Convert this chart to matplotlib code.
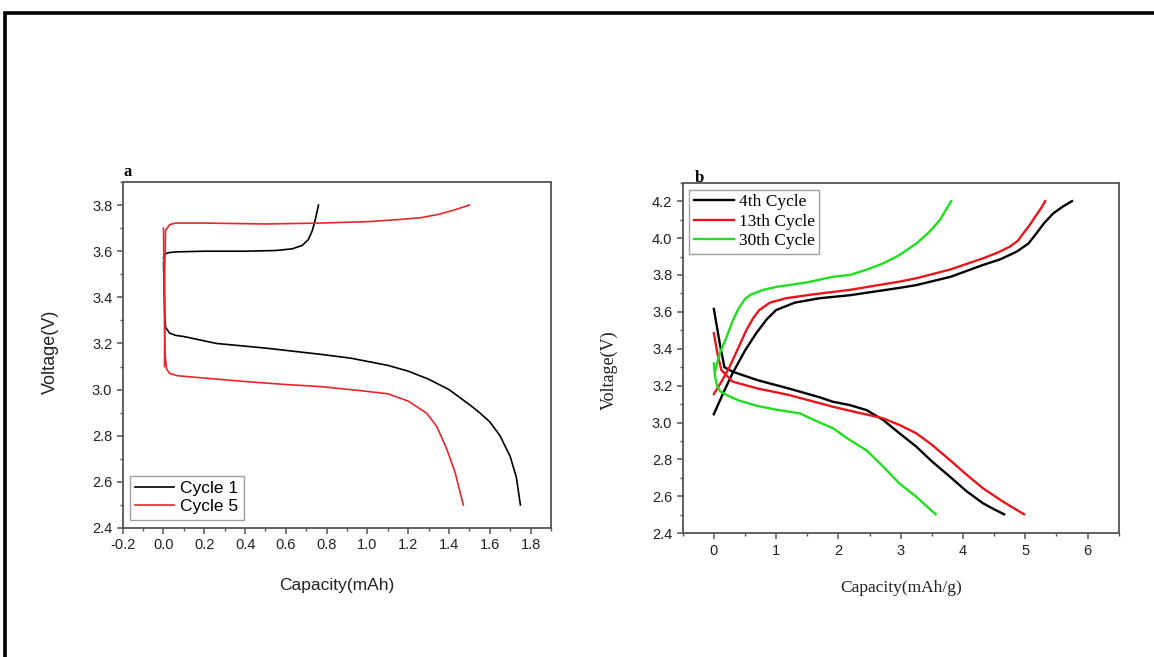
import matplotlib.pyplot as plt
from matplotlib.patches import Rectangle
from matplotlib.ticker import MultipleLocator

# ---- panel a data (capacity mAh, voltage V) ----
c1_chg_x = [0.0, 0.005, 0.02, 0.06, 0.2, 0.4, 0.55, 0.63, 0.68, 0.71, 0.73, 0.745, 0.76]
c1_chg_v = [3.57, 3.585, 3.593, 3.597, 3.6, 3.6, 3.603, 3.61, 3.625, 3.65, 3.69, 3.74, 3.8]
c1_dis_x = [0.0, 0.003, 0.006, 0.01, 0.03, 0.06, 0.1, 0.26, 0.5, 0.77, 0.92, 1.1, 1.2, 1.3,
            1.4, 1.5, 1.55, 1.6, 1.65, 1.7, 1.73, 1.75]
c1_dis_v = [3.55, 3.45, 3.33, 3.27, 3.245, 3.235, 3.23, 3.2, 3.18, 3.153, 3.136, 3.105, 3.08, 3.045,
            3.0, 2.935, 2.9, 2.86, 2.8, 2.71, 2.62, 2.5]
c5_chg_x = [0.005, 0.006, 0.01, 0.03, 0.06, 0.2, 0.5, 0.77, 1.0, 1.15, 1.26, 1.35, 1.43, 1.5]
c5_chg_v = [3.1, 3.5, 3.69, 3.715, 3.722, 3.722, 3.718, 3.722, 3.728, 3.737, 3.745, 3.76, 3.78, 3.8]
c5_dis_x = [0.0, 0.004, 0.008, 0.015, 0.03, 0.07, 0.2, 0.4, 0.6, 0.77, 0.96, 1.1, 1.2, 1.29,
            1.34, 1.39, 1.43, 1.47]
c5_dis_v = [3.7, 3.4, 3.15, 3.09, 3.07, 3.06, 3.05, 3.035, 3.022, 3.013, 2.996, 2.982, 2.95, 2.898,
            2.84, 2.74, 2.64, 2.5]

# ---- panel b data (capacity mAh/g, voltage V) ----
b4_chg_x = [0.0, 0.15, 0.3, 0.5, 0.68, 0.85, 1.0, 1.3, 1.7, 2.18, 2.98, 3.25, 3.8, 4.32, 4.6, 4.86,
            5.05, 5.18, 5.3, 5.45, 5.6, 5.75]
b4_chg_v = [3.045, 3.16, 3.267, 3.39, 3.484, 3.56, 3.61, 3.65, 3.674, 3.69, 3.73, 3.745, 3.79, 3.854,
            3.885, 3.926, 3.97, 4.026, 4.08, 4.134, 4.17, 4.2]
b4_dis_x = [0.0, 0.1, 0.17, 0.3, 0.7, 1.2, 1.7, 1.91, 2.18, 2.45, 2.72, 2.98, 3.25, 3.5, 3.79, 4.05,
            4.32, 4.5, 4.66]
b4_dis_v = [3.616, 3.42, 3.3, 3.276, 3.23, 3.185, 3.137, 3.113, 3.095, 3.068, 3.014, 2.942, 2.87,
            2.79, 2.707, 2.63, 2.563, 2.53, 2.503]
b13_chg_x = [0.0, 0.12, 0.25, 0.4, 0.52, 0.63, 0.73, 0.9, 1.16, 1.6, 2.18, 2.98, 3.25, 3.8, 4.32,
             4.55, 4.75, 4.88, 4.97, 5.07, 5.16, 5.25, 5.32]
b13_chg_v = [3.155, 3.22, 3.3, 3.41, 3.5, 3.565, 3.61, 3.65, 3.674, 3.695, 3.719, 3.764, 3.782,
             3.83, 3.89, 3.92, 3.953, 3.985, 4.026, 4.07, 4.116, 4.16, 4.2]
b13_dis_x = [0.0, 0.06, 0.12, 0.3, 0.7, 1.2, 1.7, 1.91, 2.3, 2.61, 2.72, 2.98, 3.25, 3.5, 3.79,
             4.05, 4.32, 4.65, 4.98]
b13_dis_v = [3.484, 3.37, 3.285, 3.222, 3.185, 3.15, 3.105, 3.086, 3.055, 3.032, 3.023, 2.987, 2.942,
             2.88, 2.797, 2.72, 2.644, 2.57, 2.503]
b30_chg_x = [0.02, 0.1, 0.2, 0.3, 0.4, 0.5, 0.6, 0.8, 1.0, 1.5, 1.91, 2.18, 2.45, 2.72, 2.98, 3.25,
             3.45, 3.63, 3.72, 3.81]
b30_chg_v = [3.28, 3.38, 3.46, 3.55, 3.62, 3.67, 3.695, 3.72, 3.735, 3.76, 3.79, 3.80, 3.828, 3.863,
             3.908, 3.97, 4.03, 4.098, 4.15, 4.2]
b30_dis_x = [0.0, 0.02, 0.05, 0.1, 0.2, 0.4, 0.7, 1.0, 1.38, 1.7, 1.91, 2.18, 2.45, 2.72, 2.98,
             3.25, 3.56]
b30_dis_v = [3.32, 3.25, 3.2, 3.17, 3.15, 3.12, 3.09, 3.07, 3.05, 3.0, 2.97, 2.906, 2.85, 2.761,
             2.67, 2.598, 2.503]

W, H = 1154, 657
fig = plt.figure(figsize=(W / 100, H / 100), dpi=100)
fig.patches.append(Rectangle((5 / W, -0.2), 1.2, 1.2 - 12.5 / H,
                             transform=fig.transFigure, fill=False, ec='black', lw=2.6))

spine_col = '#555555'
sans = 'Liberation Sans'
serif = 'Liberation Serif'


def style(ax, fam):
    for s in ax.spines.values():
        s.set_color(spine_col)
        s.set_linewidth(1.3)
    ax.tick_params(which='both', direction='out', colors=spine_col, top=False, right=False)
    ax.tick_params(which='major', length=4, width=1.1, labelcolor='#222222', labelsize=10.5)
    ax.tick_params(which='minor', length=2.5, width=1.0)
    for lab in ax.get_xticklabels() + ax.get_yticklabels():
        lab.set_family(fam)


# panel a
ax1 = fig.add_axes([122.7 / W, 1 - 528 / H, 428.3 / W, 346 / H])
ax1.plot(c1_chg_x, c1_chg_v, color='black', lw=1.2)
ax1.plot(c1_dis_x, c1_dis_v, color='black', lw=1.2, label='Cycle 1')
ax1.plot(c5_chg_x, c5_chg_v, color='#e8262a', lw=1.2)
ax1.plot(c5_dis_x, c5_dis_v, color='#e8262a', lw=1.2, label='Cycle 5')
ax1.set_xlim(-0.2, 1.9)
ax1.set_ylim(2.4, 3.9)
ax1.xaxis.set_minor_locator(MultipleLocator(0.1))
ax1.yaxis.set_major_locator(MultipleLocator(0.2))
ax1.yaxis.set_minor_locator(MultipleLocator(0.1))
ax1.set_xticks([-0.2, 0.0, 0.2, 0.4, 0.6, 0.8, 1.0, 1.2, 1.4, 1.6, 1.8])
ax1.set_xticklabels(['-0.2', '0.0', '0.2', '0.4', '0.6', '0.8', '1.0', '1.2', '1.4', '1.6', '1.8'])
style(ax1, sans)
ax1.set_xlabel('Capacity(mAh)', family=sans, fontsize=12.5, color='#222222')
ax1.set_ylabel('Voltage(V)', family=sans, fontsize=13, color='#222222')
ax1.xaxis.set_label_coords(0.5, -0.145)
ax1.yaxis.set_label_coords(-0.15, 0.51)
leg1 = ax1.legend(loc='lower left', bbox_to_anchor=(0.017, 0.024), prop={'family': sans, 'size': 12.5},
                  frameon=True, fancybox=False, handlelength=2.25, handletextpad=0.35,
                  borderpad=0.3, labelspacing=0.2, borderaxespad=0)
leg1.get_frame().set_edgecolor('#888888')
leg1.get_frame().set_linewidth(1.0)
ax1.text(0.003, 1.005, 'a', transform=ax1.transAxes, family=serif, fontweight='bold',
         fontsize=12, ha='left', va='bottom')

# panel b
ax2 = fig.add_axes([682.7 / W, 1 - 533.3 / H, 436 / W, 350.6 / H])
ax2.plot(b4_chg_x, b4_chg_v, color='black', lw=1.7)
ax2.plot(b4_dis_x, b4_dis_v, color='black', lw=1.7, label='4th Cycle')
ax2.plot(b13_chg_x, b13_chg_v, color='#e8161c', lw=1.7)
ax2.plot(b13_dis_x, b13_dis_v, color='#e8161c', lw=1.7, label='13th Cycle')
ax2.plot(b30_chg_x, b30_chg_v, color='#1ee01e', lw=1.7)
ax2.plot(b30_dis_x, b30_dis_v, color='#1ee01e', lw=1.7, label='30th Cycle')
ax2.set_xlim(-0.5, 6.5)
ax2.set_ylim(2.4, 4.3)
ax2.xaxis.set_minor_locator(MultipleLocator(0.5))
ax2.yaxis.set_minor_locator(MultipleLocator(0.1))
ax2.set_xticks([0, 1, 2, 3, 4, 5, 6])
ax2.set_yticks([2.4, 2.6, 2.8, 3.0, 3.2, 3.4, 3.6, 3.8, 4.0, 4.2])
style(ax2, sans)
ax2.set_xlabel('Capacity(mAh/g)', family=serif, fontsize=12.5, color='#222222')
ax2.set_ylabel('Voltage(V)', family=serif, fontsize=13, color='#222222')
ax2.xaxis.set_label_coords(0.5, -0.133)
ax2.yaxis.set_label_coords(-0.15, 0.465)
leg2 = ax2.legend(loc='upper left', bbox_to_anchor=(0.015, 0.98), prop={'family': serif, 'size': 12.5},
                  frameon=True, fancybox=False, handlelength=2.3, handletextpad=0.3,
                  borderpad=0.25, labelspacing=0.2, borderaxespad=0)
leg2.get_frame().set_edgecolor('#888888')
leg2.get_frame().set_linewidth(1.0)
ax2.text(0.027, 0.99, 'b', transform=ax2.transAxes, family=serif, fontweight='bold',
         fontsize=12, ha='left', va='bottom')

fig.savefig('out.png', dpi=100)
